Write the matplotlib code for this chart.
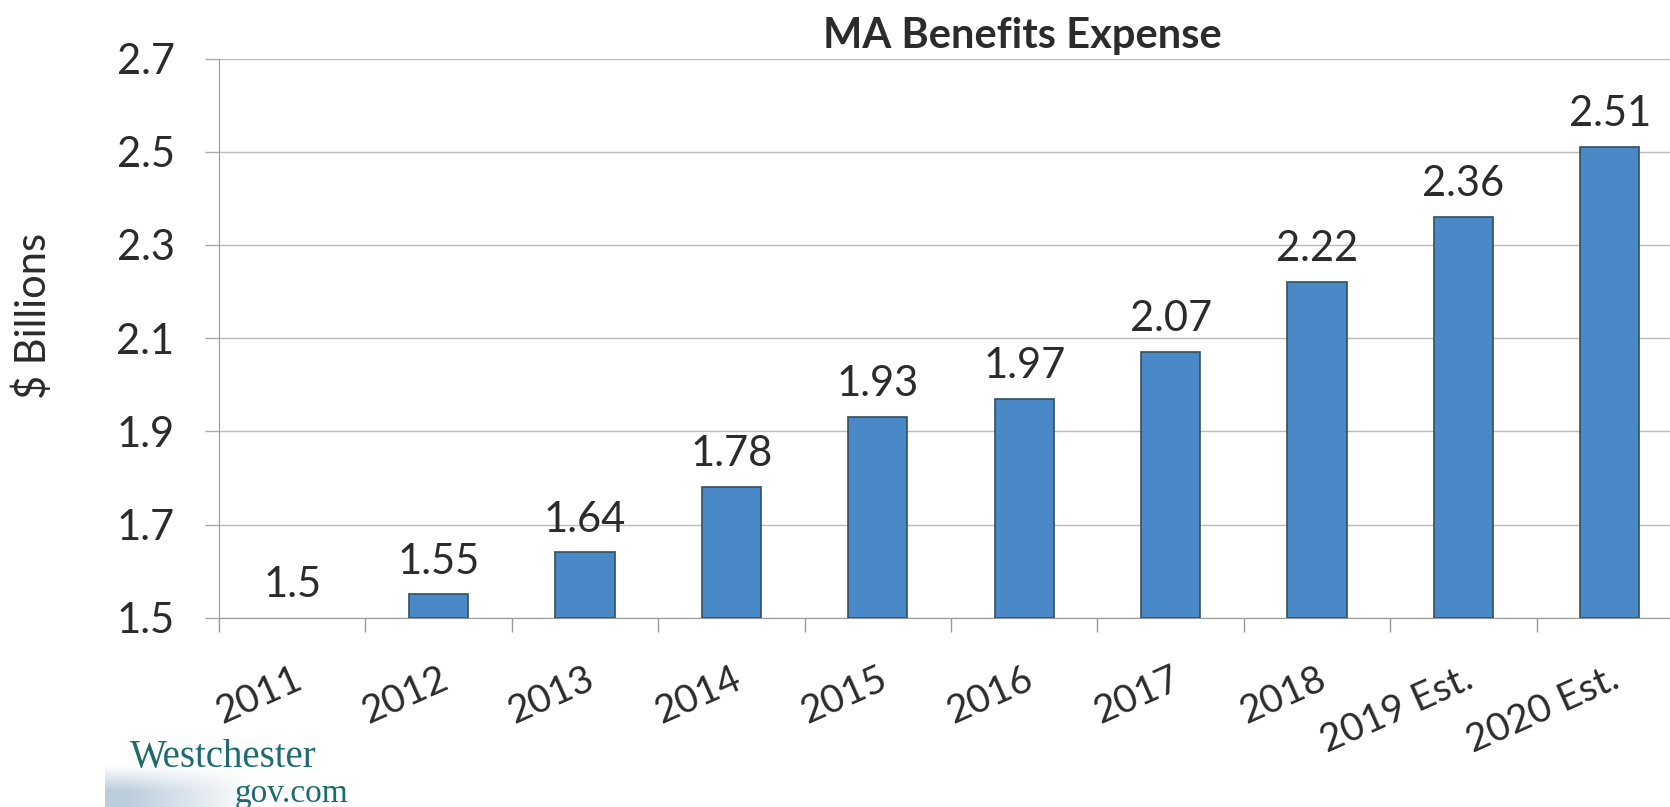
import matplotlib
matplotlib.use("Agg")
import matplotlib.pyplot as plt
import numpy as np

categories = ["2011", "2012", "2013", "2014", "2015", "2016", "2017", "2018", "2019 Est.", "2020 Est."]
values = [1.5, 1.55, 1.64, 1.78, 1.93, 1.97, 2.07, 2.22, 2.36, 2.51]
labels = ["1.5", "1.55", "1.64", "1.78", "1.93", "1.97", "2.07", "2.22", "2.36", "2.51"]
yticks = [1.5, 1.7, 1.9, 2.1, 2.3, 2.5, 2.7]
ytick_labels = ["1.5", "1.7", "1.9", "2.1", "2.3", "2.5", "2.7"]

plt.rcParams['font.family'] = ['Lato', 'DejaVu Sans']

W, H = 1670, 807
fig = plt.figure(figsize=(W / 100, H / 100), dpi=100)
left, right = 219 / W, 1683 / W
top, bottom = 1 - 58.6 / H, 1 - 617.7 / H
ax = fig.add_axes([left, bottom, right - left, top - bottom])

base = 1.5
x = np.arange(len(categories))
heights = [v - base for v in values]
lws = [0 if h == 0 else 1.2 for h in heights]
ax.bar(x, heights, bottom=base, width=0.405, color='#4A89C8',
       edgecolor='#34505c', linewidth=lws, zorder=3)

for xi, v, lab in zip(x, values, labels):
    ax.annotate(lab, (xi, v), xytext=(0, 10), textcoords='offset points',
                ha='center', va='bottom', fontsize=30, color='#2b2b2b')

ax.set_xlim(-0.5, len(categories) - 0.5)
ax.set_ylim(1.5, 2.7)
ax.set_yticks(yticks)
ax.set_yticklabels(ytick_labels, fontsize=30, color='#2b2b2b')
ax.set_xticks(x)
ax.set_xticklabels(categories, fontsize=28, color='#2b2b2b', rotation=24,
                   ha='right', va='top', rotation_mode='anchor')
ax.set_xticks(np.arange(-0.5, len(categories), 1.0), minor=True)
ax.tick_params(axis='x', which='major', length=0, pad=31)
ax.tick_params(axis='x', which='minor', length=10, width=1, color='#999999')
ax.tick_params(axis='y', length=10, width=1, color='#aaaaaa', pad=22)

ax.grid(axis='y', color='#bbbbbb', linewidth=1, zorder=0)
for s in ['top', 'right']:
    ax.spines[s].set_visible(False)
ax.spines['left'].set_color('#999999')
ax.spines['bottom'].set_color('#999999')

fig.text(1022 / W, 1 - 36 / H, "MA Benefits Expense", fontsize=30,
         fontweight='bold', ha='center', va='center', color='#2b2b2b')
fig.text(33 / W, 1 - 316 / H, "$ Billions", fontsize=30, rotation=90,
         ha='center', va='center', color='#2b2b2b')

# logo smudge
lax = fig.add_axes([105 / W, 0, 165 / W, 42 / H])
nx, ny = 220, 40
gx = np.clip(np.linspace(1.15, -0.1, nx), 0, 1)[None, :]
gy = np.clip(np.linspace(0.0, 1.6, ny), 0, 1)[:, None]
rgba = np.zeros((ny, nx, 4))
rgba[..., 0] = 0.56
rgba[..., 1] = 0.67
rgba[..., 2] = 0.77
rgba[..., 3] = 0.6 * gx * gy
lax.imshow(rgba, aspect='auto')
lax.axis('off')

fig.text(130 / W, 1 - 767 / H, "Westchester", fontsize=28,
         family=['Liberation Serif', 'DejaVu Serif'], color='#1d6b6e',
         ha='left', va='baseline')
fig.text(348 / W, 1 - 802 / H, "gov.com", fontsize=24,
         family=['Liberation Serif', 'DejaVu Serif'], color='#1d6b6e',
         ha='right', va='baseline')

fig.savefig("out.png", dpi=100)
